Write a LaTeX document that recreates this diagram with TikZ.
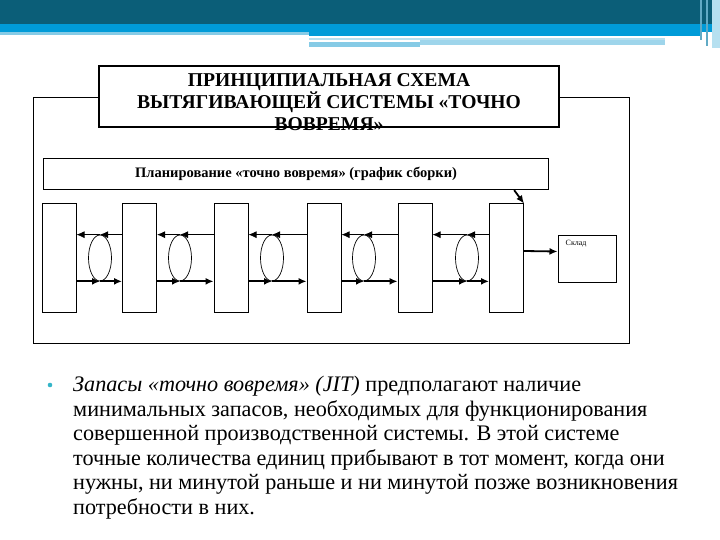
\documentclass[tikz,border=0pt]{standalone}
\usepackage{fontspec}
\setmainfont{Liberation Serif}
\usepackage{tikz}
\usetikzlibrary{shapes.geometric,arrows.meta,positioning,calc}
\definecolor{shapkaT}{HTML}{0B5E78}
\definecolor{shapkaS}{HTML}{009BD8}
\definecolor{shapkaG}{HTML}{86CBE6}
\definecolor{tochka}{HTML}{35B5C8}
\tikzset{
  ramka/.style={draw,line width=1.2pt,fill=white,inner sep=0pt},
  blok/.style={draw,line width=1pt,fill=white,minimum width=34pt,minimum height=108pt,inner sep=0pt},
  oval/.style={draw,ellipse,line width=0.7pt,minimum width=23pt,minimum height=46pt,inner sep=0pt},
  strelka/.style={-{Latex[length=8pt,width=7pt]},line width=0.8pt},
  strelkaj/.style={-{Latex[length=8pt,width=7pt]},line width=1.8pt},
  zagl/.style={font=\fontsize{19.6}{22}\selectfont\bfseries,align=center,inner sep=0pt},
  tekst/.style={font=\fontsize{22.2}{24.5}\selectfont,align=left,inner sep=0pt},
}
\begin{document}
\begin{tikzpicture}[x=1pt,y=-1pt]
  \useasboundingbox (0,0) rectangle (720,540);
  % шапка слайда
  \fill[shapkaT] (0,0) rectangle (720,24);
  \fill[shapkaS] (0,24) rectangle (720,32);
  \fill[shapkaS] (309,32) rectangle (700,36);
  \fill[shapkaG] (0,32) rectangle (309,35);
  \fill[shapkaG!60] (309,38) rectangle (665,40);
  \fill[shapkaG!80] (420,40) rectangle (665,45);
  \fill[shapkaG] (309,42) rectangle (420,47);
  \fill[shapkaG!70!shapkaT] (700,0) rectangle (702,40);
  \fill[shapkaG!70!shapkaT] (706,0) rectangle (708,46);
  \fill[shapkaG!60] (712,0) rectangle (720,48);
  % схема
  \node[ramka,minimum width=596pt,minimum height=246pt,anchor=north west] (kontur) at (33,97) {};
  \node[ramka,minimum width=460pt,minimum height=61pt] (shema) at (329,96.5) {};
  \node[zagl,anchor=north] (zagolovok) at (329,73) {ПРИНЦИПИАЛЬНАЯ СХЕМА\\ВЫТЯГИВАЮЩЕЙ СИСТЕМЫ «ТОЧНО\\ВОВРЕМЯ»};
  \node[ramka,minimum width=505pt,minimum height=31pt,anchor=north west,font=\fontsize{14.5}{16}\selectfont\bfseries] (plan) at (43,158) {Планирование «точно вовремя» (график сборки)};
  \foreach \i/\x in {1/59,2/139.5,3/231,4/324,5/415,6/506.5}
    \node[blok] (b\i) at (\x,258) {};
  \foreach \i/\x in {1/100,2/180,3/272,4/364,5/467}
    \node[oval] (o\i) at (\x,258) {};
  \foreach \i [evaluate=\i as \j using int(\i+1)] in {1,...,5} {
    \draw[strelka] (b\j.west |- o\i.north) -- (o\i.north);
    \draw[strelka] (o\i.north) -- (b\i.east |- o\i.north);
    \draw[strelkaj] (b\i.east |- o\i.south) -- (o\i.south);
    \draw[strelkaj] (o\i.south) -- (b\j.west |- o\i.south);
  }
  \node[ramka,line width=1pt,minimum width=58pt,minimum height=47pt] (sklad) at (587,258.5) {};
  \node[font=\fontsize{8}{9}\selectfont,anchor=north west,inner sep=0pt] (skladtxt) at ($(sklad.north west)+(8,6)$) {Склад};
  \draw[strelkaj] ($(b6.east)+(0,-7)$) -- ($(sklad.west)+(0,-7)$);
  \draw[strelkaj] ($(plan.south east)+(-35,0)$) -- (b6.north east);
  % текст
  \fill[tochka] (50,385) circle (2.3);
  \node[tekst,anchor=north west] (abzac) at (73,376) {\textit{Запасы «точно вовремя» (JIT)} предполагают наличие\\
    минимальных запасов, необходимых для функционирования\\
    совершенной производственной системы. В этой системе\\
    точные количества единиц прибывают в тот момент, когда они\\
    нужны, ни минутой раньше и ни минутой позже возникновения\\
    потребности в них.};
\end{tikzpicture}
\end{document}
